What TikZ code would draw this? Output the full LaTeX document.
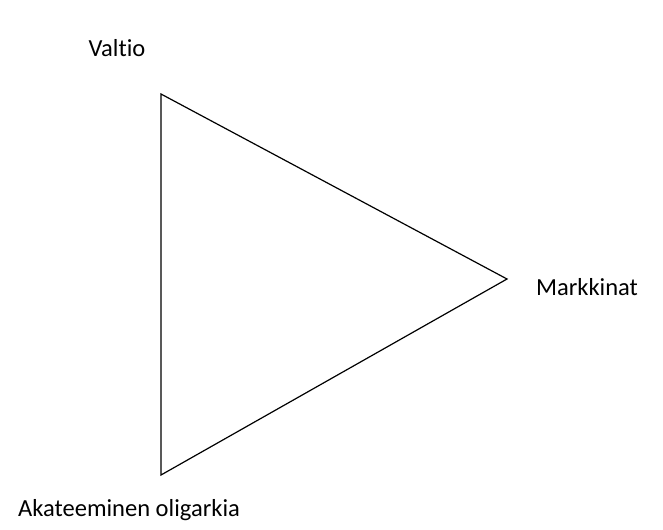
\documentclass[tikz,border=0pt]{standalone}
\usepackage{fontspec}
\setmainfont{Carlito}[Ligatures=NoCommon]
\begin{document}
\begin{tikzpicture}[x = 0.75pt, y = -0.75pt]
\tikzset{label text/.style={font=\fontsize{18.4}{22}\selectfont, inner sep=0pt}}
\useasboundingbox (0,0) rectangle (663,529);
\coordinate (top) at (161,94);
\coordinate (right) at (507,279);
\coordinate (bottom) at (161,475);
\draw[line width=0.9pt, line join=miter] (top) -- (right) -- (bottom) -- cycle;
\node[label text] (valtio) at (117,48) {Valtio};
\node[label text] (markkinat) at (587,287) {Markkinat};
\node[label text] (akateeminen) at (129,510) {Akateeminen oligarkia};
\end{tikzpicture}
\end{document}
